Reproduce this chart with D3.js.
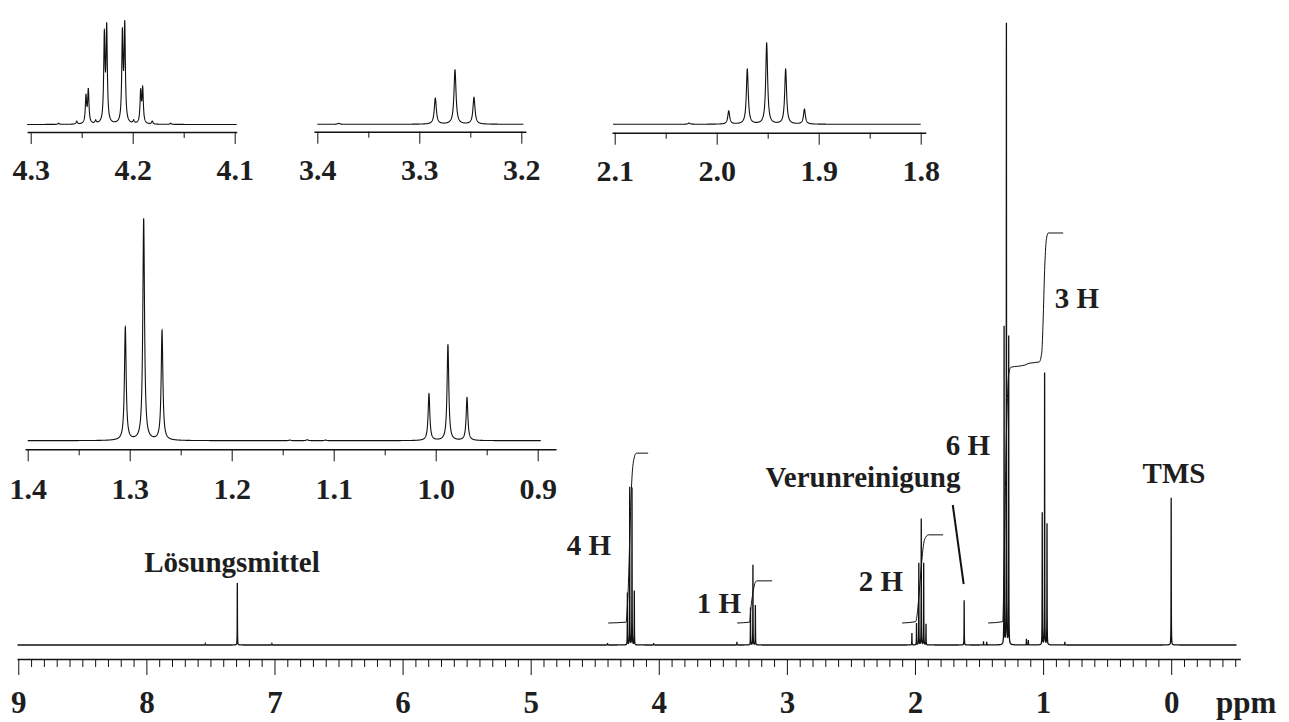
<!DOCTYPE html>
<html><head><meta charset="utf-8">
<script src="https://cdn.jsdelivr.net/npm/d3@7"></script>
<style>
body{margin:0;background:#fff}
svg{display:block}
text{font-family:"Liberation Serif","Times New Roman",serif;font-weight:bold;fill:#1e1e1e}
</style>
</head><body>
<svg id="chart" width="1289" height="722"></svg>
<script>
// ---------------- DATA ----------------
// Main 1H-NMR spectrum: [chemical shift ppm, relative intensity (tallest = 100)]
const mainPeaks = [
  [7.54,0.2],[7.29,10.0],[7.02,0.2],
  [4.40,0.3],[4.245,8.4],[4.227,25.4],[4.209,25.3],[4.191,8.7],[4.04,0.3],
  [3.39,0.5],[3.284,6.0],[3.265,12.9],[3.246,6.4],
  [2.024,1.9],[1.988,3.5],[1.970,13.2],[1.951,20.3],[1.932,13.2],[1.914,3.4],
  [1.616,7.2],[1.465,0.6],[1.44,0.5],
  [1.3043,51.2],[1.2863,100],[1.2683,49.6],
  [1.13,1.0],[1.115,0.8],
  [1.0066,21.3],[0.988,43.8],[0.9693,19.5],[0.83,0.5],
  [0.0,23.7]
];
const mainTickValues = [9,8,7,6,5,4,3,2,1,0];
const mainTickLabels = ["9","8","7","6","5","4","3","2","1","0"];
const mainUnitLabel = "ppm";

// Inset spectra: [ppm, relative intensity (inset tallest = 100)]
const inset1Peaks = [[4.2726,1.2],[4.2549,2.9],[4.2458,25.9],[4.2435,32.3],[4.2363,2.9],
  [4.2278,82.4],[4.2255,90.3],[4.2101,83.9],[4.2078,92.1],[4.1991,2.9],
  [4.1922,30.0],[4.1902,32.9],[4.1808,2.9],[4.1628,1.2]];
const inset1Ticks = [4.3,4.2,4.1];
const inset1TickLabels = ["4.3","4.2","4.1"];
const inset1Minor = [4.25,4.15];

const inset2Peaks = [[3.379,1.8],[3.2843,47.9],[3.265,100],[3.2464,49.2]];
const inset2Ticks = [3.4,3.3,3.2];
const inset2TickLabels = ["3.4","3.3","3.2"];
const inset2Minor = [3.35,3.25];

const inset3Peaks = [[2.027,1.5],[1.9882,16.4],[1.970,67.9],[1.951,100],[1.9324,67.9],[1.914,18.5]];
const inset3Ticks = [2.1,2.0,1.9,1.8];
const inset3TickLabels = ["2.1","2.0","1.9","1.8"];
const inset3Minor = [2.05,1.95,1.85];

const inset4Peaks = [[1.3043,51.0],[1.2863,100],[1.2683,49.5],[1.143,0.3],[1.126,0.45],[1.108,0.3],
  [1.0066,21.1],[0.988,43.4],[0.9693,19.4]];
const inset4Ticks = [1.4,1.3,1.2,1.1,1.0,0.9];
const inset4TickLabels = ["1.4","1.3","1.2","1.1","1.0","0.9"];
const inset4Minor = [1.35,1.25,1.15,1.05,0.95];

// Integral curves: [ppm, integrated protons]
const integral4H = [[4.395,0],[4.255,0.02],[4.245,0.4],[4.236,1.0],[4.227,1.9],[4.218,2.8],[4.209,3.4],[4.195,3.8],[4.175,3.95],[4.083,3.95]];
const integral1H = [[3.388,0],[3.29,0.02],[3.284,0.25],[3.265,0.7],[3.25,0.92],[3.235,0.98],[3.115,0.98]];
const integral2H = [[2.10,0],[1.995,0.03],[1.985,0.15],[1.970,0.6],[1.951,1.3],[1.932,1.85],[1.915,2.0],[1.895,2.05],[1.78,2.05]];
const integral9H = [[1.429,0],[1.315,0.03],[1.304,1.4],[1.286,4.4],[1.268,5.8],[1.25,5.95],[1.20,5.97],[1.14,6.0],[1.11,6.04],[1.03,6.07],[1.01,6.3],[1.0,7.0],[0.988,8.2],[0.975,8.9],[0.96,9.07],[0.843,9.07]];

const annotationTexts = ["Lösungsmittel","4 H","1 H","2 H","Verunreinigung","6 H","3 H","TMS"];

// ---------------- LAYOUT ----------------
const svg = d3.select("#chart");
const ink = "#111";
const PX_PER_PPM_MAIN = 128.1;
const xMain = d3.scaleLinear().domain([9.01, -0.54]).range([17, 17 + 9.55 * PX_PER_PPM_MAIN]);
const yMain = d3.scaleLinear().domain([0, 100]).range([645, 24]);
const yInt = d3.scaleLinear().domain([0, 9]).range([623, 623 - 9 * 43]);

// Lorentzian line-shape rendering of a peak list
function lineShape(peaks, gamma) {
  return p => d3.sum(peaks, d => d[1] / (1 + ((p - d[0]) / gamma) ** 2));
}

// ---- main spectrum ----
(function drawMain() {
  const gamma = 0.0008;
  const f = lineShape(mainPeaks, gamma);
  const offs = [0,0.0002,0.0005,0.001,0.0015,0.002,0.003,0.005,0.008,0.012,0.02];
  let samples = d3.range(-0.51, 9.01, 0.004);
  mainPeaks.forEach(d => offs.forEach(o => { samples.push(d[0] + o); samples.push(d[0] - o); }));
  samples = samples.filter(p => p >= -0.51 && p <= 9.01).sort((a, b) => b - a);
  const line = d3.line().x(p => xMain(p)).y(p => yMain(f(p)));
  svg.append("path").attr("d", line(samples)).attr("fill", "none")
    .attr("stroke", ink).attr("stroke-width", 1.3);

  // axis: minor + major ticks
  const gAx = svg.append("g").attr("transform", "translate(0,659)").attr("color", ink);
  const minor = d3.range(-5, 91).map(i => i / 10).filter(v => Math.abs(v - Math.round(v)) > 1e-6);
  gAx.append("g").call(d3.axisBottom(xMain).tickValues(minor).tickSize(8).tickSizeOuter(0).tickFormat(""))
    .call(g => g.select(".domain").attr("stroke-width", 1.5));
  const gMaj = gAx.append("g").call(d3.axisBottom(xMain).tickValues(mainTickValues).tickSize(16).tickSizeOuter(0)
      .tickPadding(16).tickFormat((d, i) => mainTickLabels[i]));
  gMaj.select(".domain").remove();
  gMaj.selectAll("text").attr("font-size", 31).attr("font-family", null).attr("fill", "#1e1e1e");
  gAx.selectAll(".tick line").attr("stroke-width", 1);
  svg.append("text").attr("x", 1216).attr("y", 713).attr("font-size", 31).text(mainUnitLabel);
})();

// ---- integrals ----
[integral4H, integral1H, integral2H, integral9H].forEach(arr => {
  svg.append("path")
    .attr("d", d3.line().x(d => xMain(d[0])).y(d => yInt(d[1])).curve(d3.curveMonotoneX)(arr))
    .attr("fill", "none").attr("stroke", ink).attr("stroke-width", 1);
});

// ---- annotations ----
const annLayout = [
  {x: 232, y: 572}, {x: 589, y: 555}, {x: 719, y: 613}, {x: 881, y: 591},
  {x: 863, y: 487}, {x: 968, y: 455}, {x: 1077, y: 308}, {x: 1174, y: 483}
];
annotationTexts.forEach((t, i) => {
  svg.append("text").attr("x", annLayout[i].x).attr("y", annLayout[i].y)
    .attr("text-anchor", "middle").attr("font-size", 29).text(t);
});
svg.append("line").attr("x1", xMain(1.705)).attr("y1", 505).attr("x2", xMain(1.62)).attr("y2", 584)
  .attr("stroke", ink).attr("stroke-width", 2);

// ---- insets ----
function drawInset(cfg) {
  const k = 1020; // px per ppm
  const xs = d3.scaleLinear().domain(cfg.axisSpan)
    .range([cfg.refX + (cfg.refPpm - cfg.axisSpan[0]) * k, cfg.refX + (cfg.refPpm - cfg.axisSpan[1]) * k]);
  const ys = d3.scaleLinear().domain([0, 100]).range([cfg.baseY, cfg.topY]);
  const f = lineShape(cfg.peaks, cfg.gamma);
  const samples = d3.range(cfg.lineSpan[0], cfg.lineSpan[1], -0.00008);
  samples.push(cfg.lineSpan[1]);
  cfg.peaks.forEach(d => samples.push(d[0]));
  samples.sort((a, b) => b - a);
  svg.append("path").attr("d", d3.line().x(p => xs(p)).y(p => ys(f(p)))(samples.filter(p => p <= cfg.lineSpan[0] && p >= cfg.lineSpan[1])))
    .attr("fill", "none").attr("stroke", ink).attr("stroke-width", 1.1);
  const g = svg.append("g").attr("transform", `translate(0,${cfg.axisY})`).attr("color", ink);
  g.append("g").call(d3.axisBottom(xs).tickValues(cfg.minor).tickSize(6).tickSizeOuter(0).tickFormat(""))
    .call(s => s.select(".domain").attr("stroke-width", 1.4));
  const gm = g.append("g").call(d3.axisBottom(xs).tickValues(cfg.ticks).tickSize(12).tickSizeOuter(0)
    .tickPadding(cfg.labelY - cfg.axisY - 12 - 21).tickFormat((d, i) => cfg.labels[i]));
  gm.select(".domain").remove();
  gm.selectAll("text").attr("font-size", 30).attr("font-family", null).attr("fill", "#1e1e1e");
}

drawInset({peaks: inset1Peaks, gamma: 0.00074, refPpm: 4.3, refX: 30.7, axisSpan: [4.3035, 4.098],
  lineSpan: [4.3035, 4.098], baseY: 124.5, topY: 20.7, axisY: 132, labelY: 180,
  ticks: inset1Ticks, labels: inset1TickLabels, minor: inset1Minor});
drawInset({peaks: inset2Peaks, gamma: 0.0012, refPpm: 3.4, refX: 317.3, axisSpan: [3.4033, 3.1955],
  lineSpan: [3.40, 3.198], baseY: 124.3, topY: 70, axisY: 131.7, labelY: 180,
  ticks: inset2Ticks, labels: inset2TickLabels, minor: inset2Minor});
drawInset({peaks: inset3Peaks, gamma: 0.0011, refPpm: 2.1, refX: 614.7, axisSpan: [2.1026, 1.795],
  lineSpan: [2.1017, 1.80], baseY: 124.3, topY: 43.3, axisY: 132.7, labelY: 181,
  ticks: inset3Ticks, labels: inset3TickLabels, minor: inset3Minor});
drawInset({peaks: inset4Peaks, gamma: 0.001, refPpm: 1.4, refX: 27.7, axisSpan: [1.4026, 0.882],
  lineSpan: [1.40, 0.897], baseY: 440.7, topY: 219, axisY: 449.3, labelY: 499,
  ticks: inset4Ticks, labels: inset4TickLabels, minor: inset4Minor});
</script>
</body></html>
